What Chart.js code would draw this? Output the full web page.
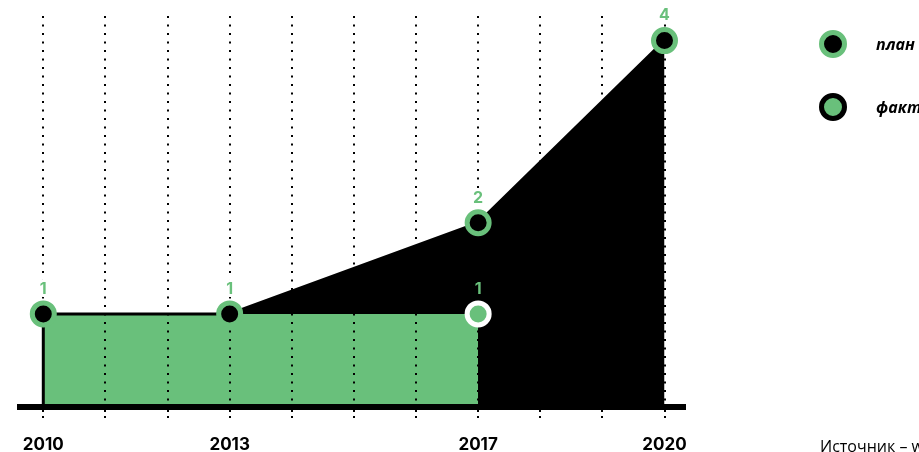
<!DOCTYPE html>
<html lang="ru">
<head>
<meta charset="utf-8">
<title>план и факт</title>
<script src="https://cdn.jsdelivr.net/npm/chart.js@4/dist/chart.umd.min.js"></script>
<style>
    body { margin: 0; background: #fff; }
    .wrap { position: relative; width: 919px; height: 452px; overflow: hidden; }
    .legend-item {
        position: absolute;
        left: 819px;
        display: flex;
        align-items: center;
        font-family: "Open Sans", sans-serif;
        font-style: italic;
        font-weight: 700;
        font-size: 16px;
        color: #000;
        white-space: nowrap;
    }
    .legend-item .dot {
        box-sizing: border-box;
        width: 28px;
        height: 28px;
        border-radius: 50%;
        border: 5px solid;
        margin-right: 29px;
    }
    .dot.plan { background: #000; border-color: #69c07b; }
    .dot.fact { background: #69c07b; border-color: #000; }
    .source {
        position: absolute;
        left: 820px;
        top: 435px;
        font-family: "Open Sans", sans-serif;
        font-size: 16px;
        color: #000;
        white-space: nowrap;
    }
</style>
</head>
<body>
<div class="wrap">
    <canvas id="planChart"></canvas>
    <div class="legend-item" style="top: 30px"><span class="dot plan"></span>план</div>
    <div class="legend-item" style="top: 93px"><span class="dot fact"></span>факт</div>
    <div class="source">Источник – worldbank.org</div>
</div>
<script>
const planYears = [2010, 2013, 2017, 2020];
const planValues = [1, 1, 2, 4];
const factYears = [2010, 2013, 2017];
const factValues = [1, 1, 1];
const labelYears = [2010, 2013, 2017, 2020];

const green = "#69c07b";

// one dotted grid line per year
const gridYears = [];
for (let y = planYears[0]; y <= planYears[planYears.length - 1]; y++) {
    gridYears.push(y);
}

function toPoints(xs, ys) {
    return xs.map((x, i) => ({ x: x, y: ys[i] }));
}

// fact markers only where they are not hidden under the plan markers
function factShown(i) {
    return i === factValues.length - 1;
}

// numbers above the markers
const valueLabels = {
    id: "valueLabels",
    afterDatasetsDraw(chart) {
        const ctx = chart.ctx;
        ctx.save();
        ctx.font = "bold 16px Inter";
        ctx.textAlign = "center";
        ctx.textBaseline = "middle";
        ctx.lineJoin = "round";
        chart.data.datasets.forEach((ds, i) => {
            if (!ds.valueLabels) return;
            const meta = chart.getDatasetMeta(i);
            meta.data.forEach((pt, j) => {
                if (ds.valueLabels === "last" && !factShown(j)) return;
                const text = String(ds.data[j].y);
                const y = pt.y - 25;
                if (ds.valueLabels === "all") {
                    ctx.strokeStyle = "#fff";
                    ctx.lineWidth = 6;
                    ctx.strokeText(text, pt.x, y);
                }
                ctx.fillStyle = green;
                ctx.fillText(text, pt.x, y);
            });
        });
        ctx.restore();
    }
};

const ctx = document.getElementById("planChart").getContext("2d");

window.myChart = new Chart(ctx, {
    type: "line",
    data: {
        datasets: [
            {
                label: "факт",
                data: toPoints(factYears, factValues),
                backgroundColor: green,
                borderWidth: 0,
                fill: "origin",
                pointRadius: (c) => factShown(c.dataIndex) ? 11 : 0,
                pointBackgroundColor: green,
                pointBorderColor: "#fff",
                pointBorderWidth: 5,
                valueLabels: "last"
            },
            {
                label: "план",
                data: toPoints(planYears, planValues),
                backgroundColor: "#000",
                borderColor: "#000",
                borderWidth: 3,
                fill: "origin",
                pointRadius: 11,
                pointBackgroundColor: "#000",
                pointBorderColor: green,
                pointBorderWidth: 5,
                valueLabels: "all"
            },
            {
                // left edge of the filled area
                label: "edge",
                data: [{ x: planYears[0], y: 0 }, { x: planYears[0], y: planValues[0] }],
                borderColor: "#000",
                borderWidth: 3,
                fill: false,
                pointRadius: 0
            }
        ]
    },
    options: {
        responsive: true,
        maintainAspectRatio: false,
        animation: false,
        layout: {
            padding: { left: 20, right: 234, top: 14, bottom: 0 }
        },
        plugins: {
            legend: { display: false },
            tooltip: { enabled: false },
            filler: { drawTime: "beforeDraw" }
        },
        scales: {
            x: {
                type: "linear",
                min: 2009.625,
                max: 2020.33,
                afterBuildTicks: (scale) => {
                    scale.ticks = gridYears.map((v) => ({ value: v }));
                },
                afterFit: (scale) => {
                    scale.height = 45;
                },
                grid: {
                    color: "#000",
                    lineWidth: 2,
                    tickColor: "#000",
                    tickWidth: 2,
                    tickLength: 14,
                    tickBorderDash: [2, 4]
                },
                // in v4 the dash of the grid lines lives under border
                border: { color: "#000", width: 6, dash: [2, 6.5] },
                ticks: {
                    autoSkip: false,
                    maxRotation: 0,
                    padding: 14,
                    color: "#000",
                    font: { family: "Inter", size: 17, weight: "bold" },
                    callback: (v) => labelYears.includes(v) ? String(v) : ""
                }
            },
            y: {
                display: false,
                min: -0.022,
                max: 4.27
            }
        }
    },
    plugins: [valueLabels]
});
</script>
</body>
</html>
